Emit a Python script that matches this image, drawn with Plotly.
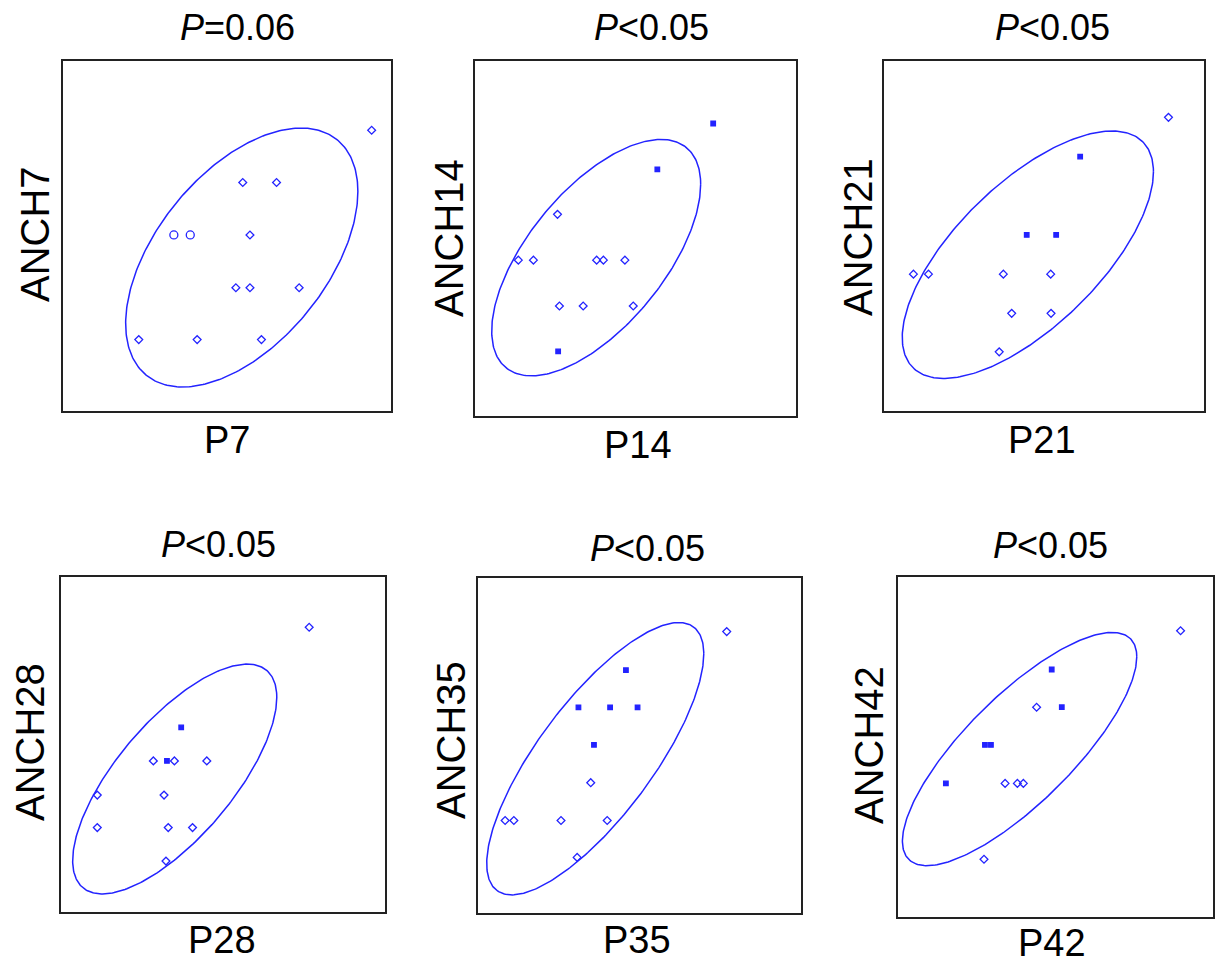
import numpy as np
import plotly.graph_objects as go

# ---------------- data (arbitrary score units, 0-10 scale) ----------------
x_labels = ["P7", "P14", "P21", "P28", "P35", "P42"]
y_labels = ["ANCH7", "ANCH14", "ANCH21", "ANCH28", "ANCH35", "ANCH42"]
titles = ["<i>P</i>=0.06", "<i>P</i>&lt;0.05", "<i>P</i>&lt;0.05",
          "<i>P</i>&lt;0.05", "<i>P</i>&lt;0.05", "<i>P</i>&lt;0.05"]

p7 = [9.41, 5.48, 6.51, 3.38, 3.88, 5.70, 5.27, 5.70, 7.20, 2.31, 4.09, 6.05]
anch7 = [8.02, 6.53, 6.53, 5.03, 5.03, 5.03, 3.52, 3.52, 3.52, 2.04, 2.04, 2.04]

p14 = [7.42, 5.68, 2.57, 1.35, 1.82, 3.79, 4.00, 4.67, 2.63, 3.37, 4.93, 2.59]
anch14 = [8.24, 6.95, 5.68, 4.39, 4.39, 4.39, 4.39, 4.39, 3.10, 3.10, 3.10, 1.82]

p21 = [8.89, 6.13, 4.46, 5.38, 0.92, 1.39, 3.73, 5.21, 3.99, 5.22, 3.60]
anch21 = [8.39, 7.27, 5.03, 5.03, 3.91, 3.91, 3.91, 3.91, 2.79, 2.79, 1.69]

p28 = [7.66, 3.71, 2.85, 3.27, 3.50, 4.50, 1.12, 3.18, 1.12, 3.31, 4.06, 3.24]
anch28 = [8.50, 5.51, 4.51, 4.51, 4.51, 4.51, 3.49, 3.49, 2.52, 2.52, 2.52, 1.52]

p35 = [7.70, 4.58, 3.11, 4.09, 4.94, 3.59, 3.49, 0.84, 1.11, 2.57, 4.00, 3.07]
anch35 = [8.40, 7.25, 6.14, 6.14, 6.14, 5.02, 3.89, 2.76, 2.76, 2.76, 2.76, 1.66]

p42 = [8.97, 4.88, 4.40, 5.20, 2.76, 2.95, 1.52, 3.40, 3.79, 3.98, 2.73]
anch42 = [8.42, 7.28, 6.17, 6.17, 5.06, 5.06, 3.93, 3.93, 3.93, 3.93, 1.70]

# confidence ellipse parameters: centre x, centre y, half-width x, half-height y, correlation
ell_cx = [5.45, 3.775, 4.495, 3.51, 3.63, 3.86]
ell_cy = [4.385, 4.46, 4.465, 3.97, 4.605, 4.94]
ell_rx = [3.54, 3.255, 3.925, 3.15, 3.36, 3.72]
ell_ry = [3.70, 3.33, 3.535, 3.43, 4.065, 3.43]
ell_r = [0.51, 0.62, 0.67, 0.71, 0.77, 0.79]

xs = [p7, p14, p21, p28, p35, p42]
ys = [anch7, anch14, anch21, anch28, anch35, anch42]

# ---------------- styles / layout ----------------
# marker kind per point: d = open diamond, c = open circle, f = filled square
kinds = [
    ["d", "d", "d", "c", "c", "d", "d", "d", "d", "d", "d", "d"],
    ["f", "f", "d", "d", "d", "d", "d", "d", "d", "d", "d", "f"],
    ["d", "f", "f", "f", "d", "d", "d", "d", "d", "d", "d"],
    ["d", "f", "d", "f", "d", "d", "d", "d", "d", "d", "d", "d"],
    ["d", "f", "f", "f", "f", "f", "d", "d", "d", "d", "d", "d"],
    ["d", "f", "d", "f", "f", "f", "f", "d", "d", "d", "d"],
]
sym_map = {"d": "diamond-open", "c": "circle-open", "f": "square"}
size_map = {"d": 6, "c": 8, "f": 4.5}

W, H = 1220, 964
# plot boxes in pixels: left, right, top, bottom
boxes = [(63, 391, 61, 411), (475, 796, 61, 416), (884, 1204, 61, 411),
         (61, 385, 577, 912), (478, 801, 578, 913), (898, 1213, 577, 917)]
title_pos = [(237, 27), (651, 27), (1052, 27), (218, 544), (647, 548), (1050, 545)]
ylab_pos = [(35, 234), (449, 238), (858, 237), (30, 742), (451, 740), (869, 745)]
xlab_pos = [(227, 440), (638, 445), (1042, 440), (222, 940), (637, 940), (1052, 943)]

BLUE = "rgb(35,35,255)"
FONT = "Liberation Sans, Arial, sans-serif"

fig = go.Figure()
t = np.linspace(0, 2 * np.pi, 300)
for i in range(6):
    ax = "" if i == 0 else str(i + 1)
    xref, yref = "x" + ax, "y" + ax
    ex = ell_cx[i] + ell_rx[i] * np.cos(t)
    ey = ell_cy[i] + ell_ry[i] * np.cos(t + np.arccos(ell_r[i]))
    fig.add_trace(go.Scatter(x=ex, y=ey, mode="lines", xaxis=xref, yaxis=yref,
                             line=dict(color=BLUE, width=1.5), hoverinfo="skip",
                             showlegend=False))
    fig.add_trace(go.Scatter(
        x=xs[i], y=ys[i], mode="markers", xaxis=xref, yaxis=yref, showlegend=False,
        marker=dict(color=BLUE, opacity=1, symbol=[sym_map[k] for k in kinds[i]],
                    size=[size_map[k] for k in kinds[i]],
                    line=dict(color=BLUE, width=1.3))))
    l, r, tp, b = boxes[i]
    axis_common = dict(showgrid=False, zeroline=False, showticklabels=False, ticks="",
                       showline=True, mirror=True, linecolor="#222", linewidth=2,
                       range=[0, 10], fixedrange=True)
    fig.update_layout(**{
        "xaxis" + ax: dict(domain=[l / W, r / W], anchor=yref, **axis_common),
        "yaxis" + ax: dict(domain=[1 - b / H, 1 - tp / H], anchor=xref, **axis_common),
    })
    tx, ty = title_pos[i]
    fig.add_annotation(text=titles[i], x=tx / W, y=1 - ty / H, xref="paper", yref="paper",
                       showarrow=False, font=dict(size=36, color="black", family=FONT),
                       xanchor="center", yanchor="middle")
    lx, ly = ylab_pos[i]
    fig.add_annotation(text=y_labels[i], x=lx / W, y=1 - ly / H, xref="paper", yref="paper",
                       showarrow=False, textangle=-90,
                       font=dict(size=40, color="black", family=FONT),
                       xanchor="center", yanchor="middle")
    bx, by = xlab_pos[i]
    fig.add_annotation(text=x_labels[i], x=bx / W, y=1 - by / H, xref="paper", yref="paper",
                       showarrow=False, font=dict(size=38, color="black", family=FONT),
                       xanchor="center", yanchor="middle")

fig.update_layout(width=W, height=H, margin=dict(l=0, r=0, t=0, b=0),
                  paper_bgcolor="white", plot_bgcolor="white")

fig.write_html("out.html", config={"displayModeBar": False},
               post_script="document.body.style.margin='0';document.body.style.overflow='hidden';")
